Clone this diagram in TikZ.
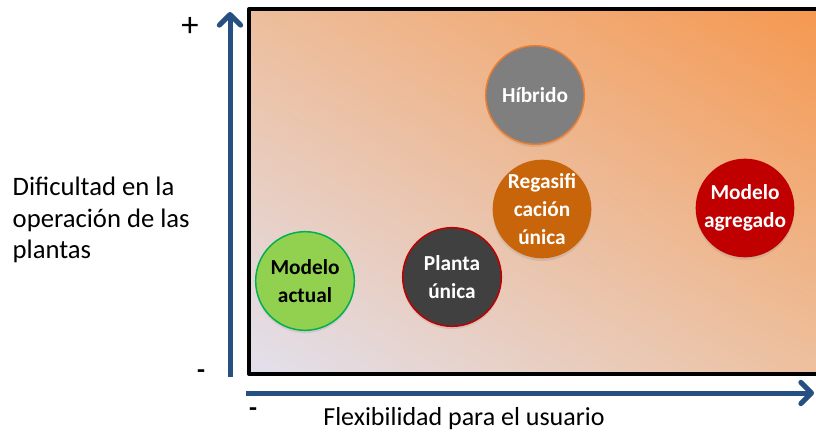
\documentclass[tikz,border=0pt]{standalone}
\usepackage{fontspec}
\setmainfont{Carlito}
\usetikzlibrary{arrows.meta,shadows,shadings}
\definecolor{axisblue}{RGB}{38,80,130}
\definecolor{cornerbl}{RGB}{226,224,237}
\definecolor{cornertl}{RGB}{237,190,156}
\definecolor{cornerbr}{RGB}{237,192,158}
\definecolor{cornertr}{RGB}{245,152,80}
\definecolor{actualgreen}{RGB}{146,208,80}
\definecolor{actualedge}{RGB}{0,176,80}
\definecolor{plantagray}{RGB}{64,64,64}
\definecolor{hibridogray}{RGB}{127,127,127}
\definecolor{hibridoedge}{RGB}{237,125,49}
\definecolor{regasorange}{RGB}{200,100,10}
\definecolor{agregadored}{RGB}{192,0,0}

\begin{document}
\begin{tikzpicture}[x=0.75pt,y=0.75pt,
  axis/.style={draw=axisblue,line width=3.75pt,
    -{Straight Barb[length=8pt,width=16pt,line cap=round,line join=round]}},
  blob/.style={circle,minimum size=74pt,inner sep=0pt,line width=1.1pt,
    drop shadow={opacity=0.2,shadow xshift=0pt,shadow yshift=-2pt},
    font=\bfseries\fontsize{16}{21}\selectfont,align=center,text=white},
  sign/.style={font=\fontsize{26}{30}\selectfont},
  axislabel/.style={font=\fontsize{19.5}{23.6}\selectfont}]
\useasboundingbox(0,0)rectangle(816,433);
% background box
\shade[lower left=cornerbl,upper left=cornertl,lower right=cornerbr,upper right=cornertr](249,59)rectangle(820,424);
\draw[line width=3pt,line join=round](820,424)--(249,424)--(249,59)--(820,59);
% axes
\coordinate(yfoot)at(230,56);
\coordinate(ytip)at(230,421);
\coordinate(xfoot)at(246,40);
\coordinate(xtip)at(814,40);
\draw[axis](yfoot)--(ytip);
\draw[axis](xfoot)--(xtip);
\node[sign](plus)at(190,406){+};
\node[sign,font=\bfseries\fontsize{19.5}{23}\selectfont](minusy)at(201,59){-};
\node[sign,font=\bfseries\fontsize{19.5}{23}\selectfont](minusx)at(253,21){-};
\node[axislabel](xlabel)at(464,14){Flexibilidad para el usuario};
\node[axislabel,align=left,anchor=west,font=\fontsize{20}{23.6}\selectfont](ylabel)at(8,213){Dificultad en la\\operación de las\\plantas};
% options
\node[blob,fill=actualgreen,draw=actualedge,text=black](actual)at(305,152){Modelo\\actual};
\node[blob,fill=plantagray,draw=agregadored](planta)at(452,156){Planta\\única};
\node[blob,fill=hibridogray,draw=hibridoedge](hibrido)at(535,338){Híbrido};
\node[blob,fill=regasorange](regas)at(542,224){Regasifi\\cación\\única};
\node[blob,fill=agregadored](agregado)at(745,225){Modelo\\agregado};
\end{tikzpicture}
\end{document}
